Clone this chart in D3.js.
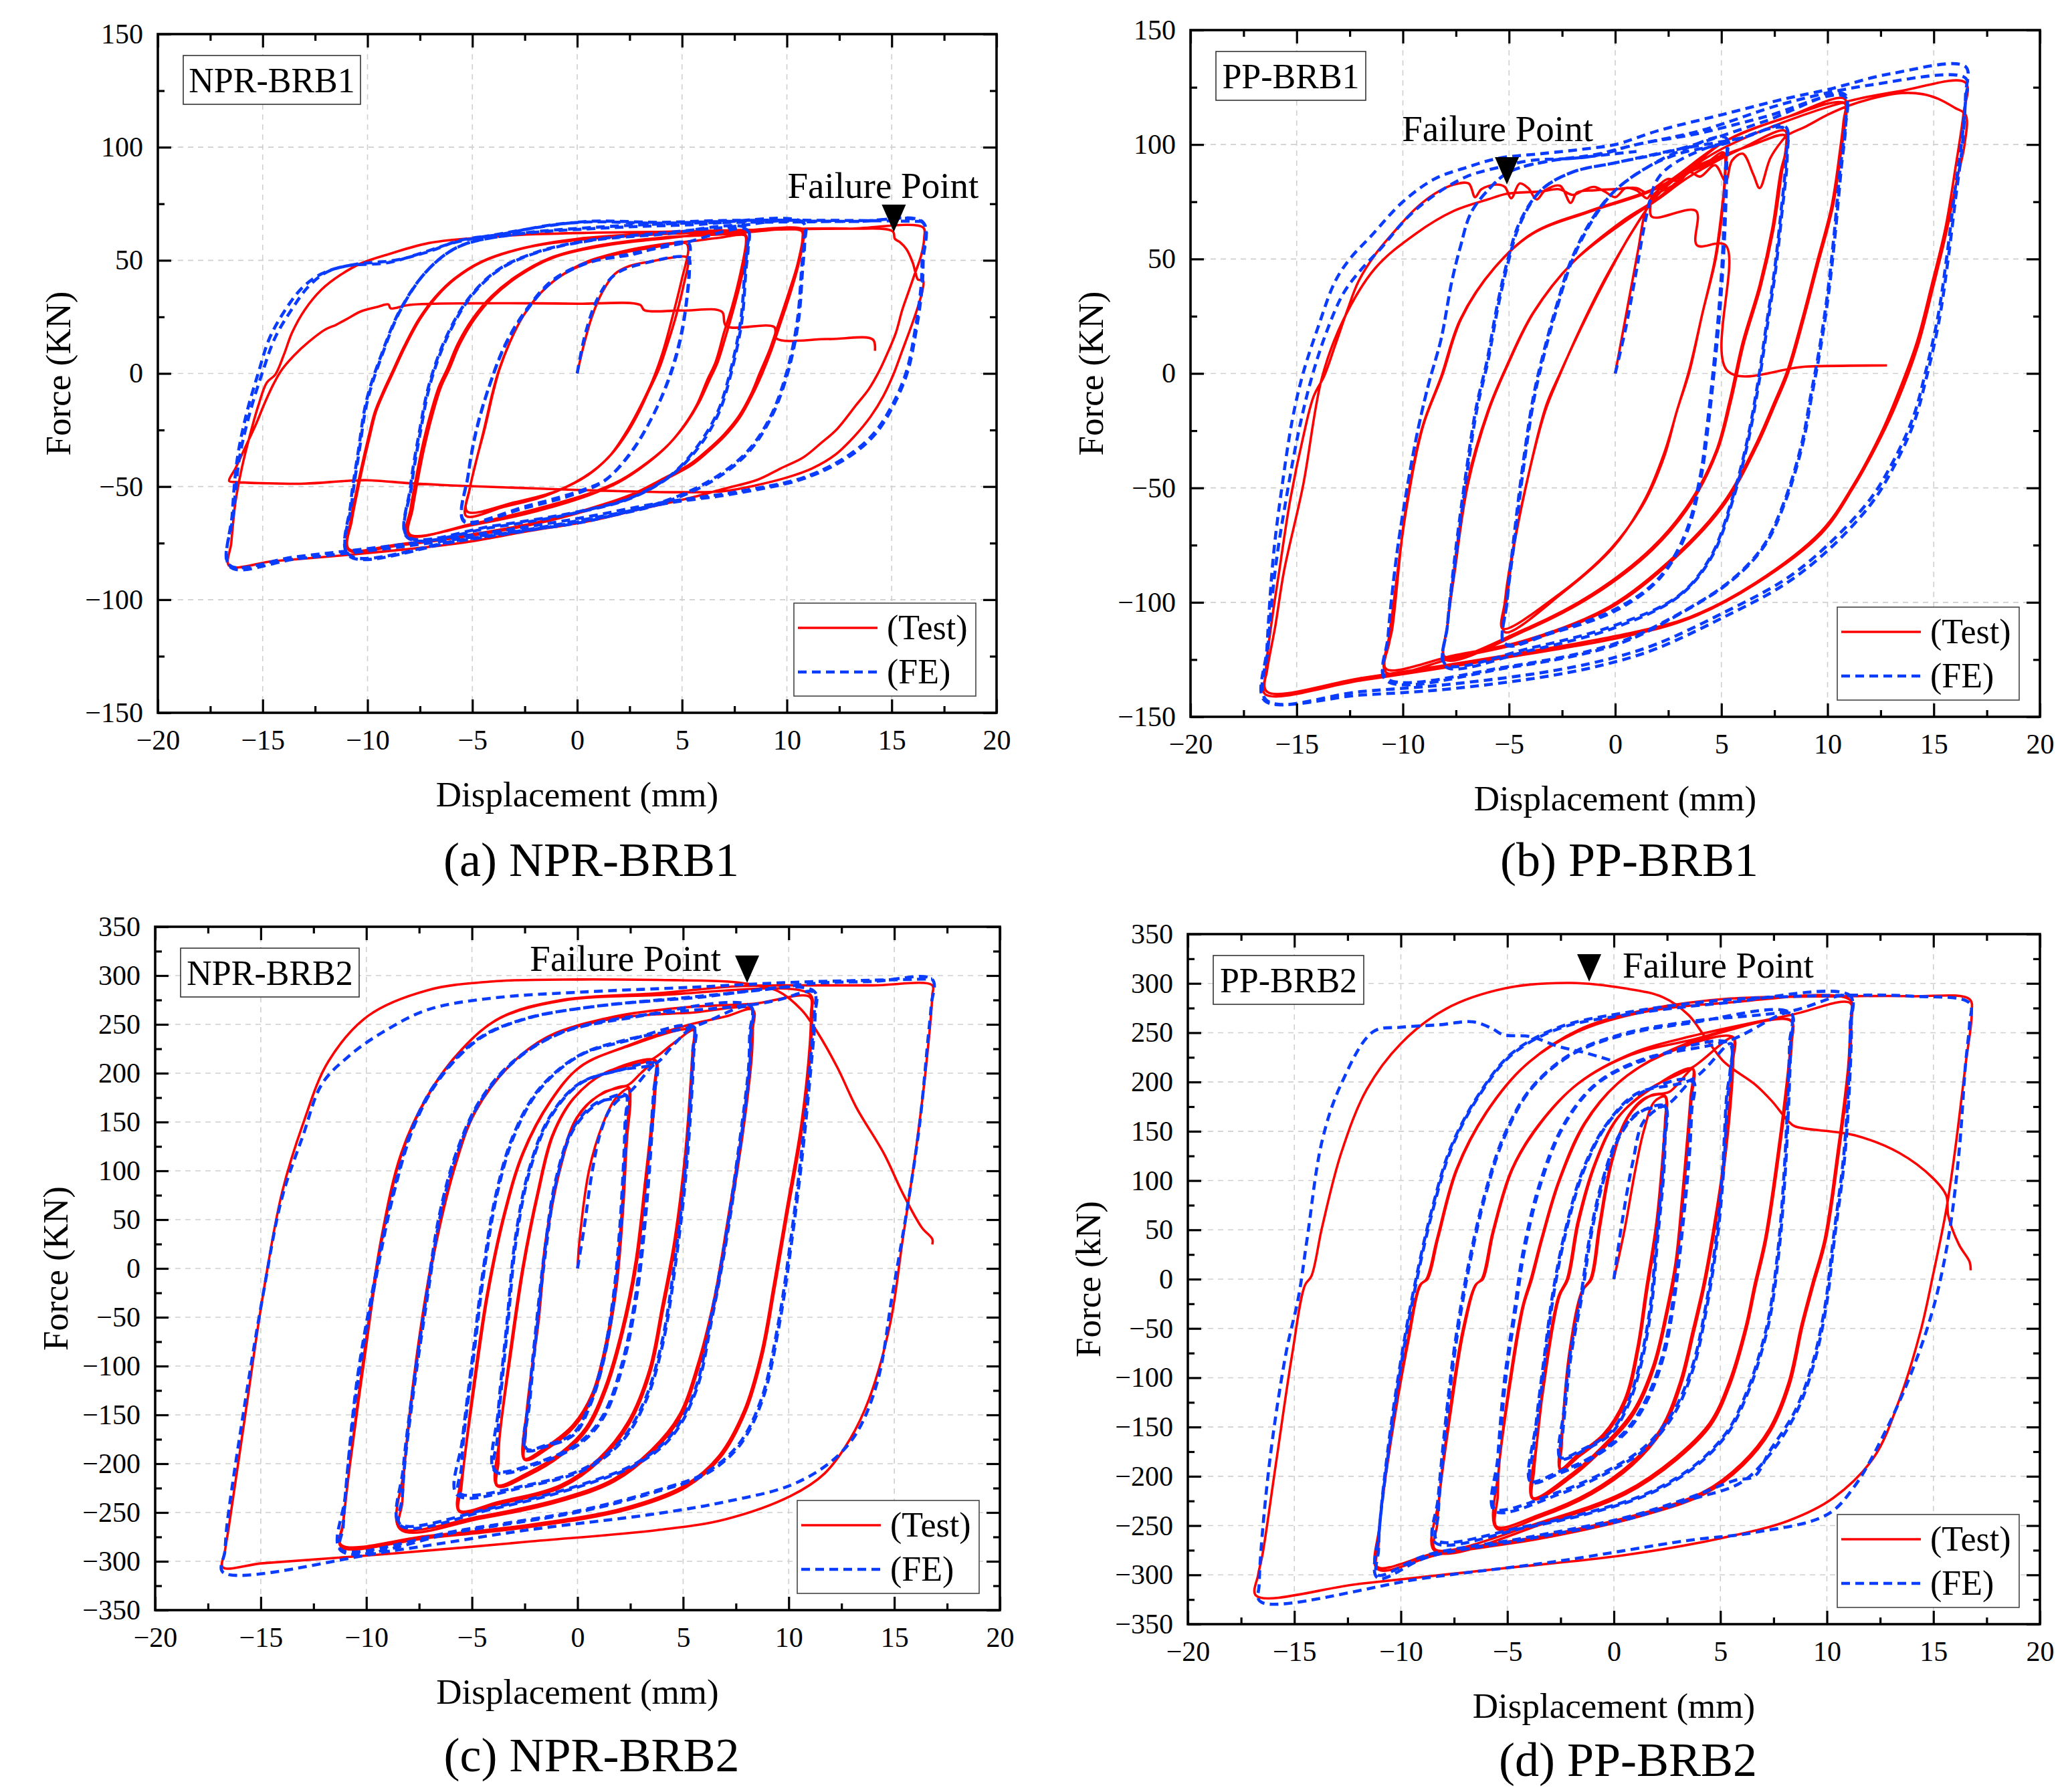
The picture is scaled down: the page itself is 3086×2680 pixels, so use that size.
<!DOCTYPE html>
<html><head><meta charset="utf-8">
<script src="https://cdn.jsdelivr.net/npm/d3@7"></script>
<style>
body{margin:0;background:#fff}
svg{display:block}
text{font-family:"Liberation Serif","Times New Roman",serif;fill:#000}
</style>
</head><body>
<svg id="chart" width="3086" height="2680"></svg>
<script>
const xTicks = [-20,-15,-10,-5,0,5,10,15,20];
const xMinor = [-17.5,-12.5,-7.5,-2.5,2.5,7.5,12.5,17.5];
const yTicksA = [-150,-100,-50,0,50,100,150];
const yMinorA = [-125,-75,-25,25,75,125];
const yTicksB = [-350,-300,-250,-200,-150,-100,-50,0,50,100,150,200,250,300,350];
const yMinorB = [-325,-275,-225,-175,-125,-75,-25,25,75,125,175,225,275,325];
const seriesNames = ["(Test)","(FE)"];

// ---------- (a) NPR-BRB1 ----------
const npr1Test = [
[0,0],[0.3,12],[0.7,25],[1.2,36],[1.8,44],[2.5,47.5],[3.5,49.5],[5.2,51.5],
[5.3,50],[5.1,40],[4.7,25],[4.2,10],[3.9,2],[3.4,-8],[3.0,-16],[2.4,-26],[1.6,-36],[0.5,-45],[-1,-52],[-3,-57],[-5.25,-61],
[-5.1,-50],[-4.8,-38],[-4.4,-24],[-4.0,-8],[-3.7,2],[-3.2,14],[-2.6,25],[-1.8,35],[-0.8,43],[0.5,49],[2,53],[3.5,55.5],[5.2,57.5],
[5.3,55],[5.0,42],[4.6,27],[4.1,10],[3.6,-3],[3.1,-13],[2.4,-25],[1.5,-37],[0.3,-46],[-1.5,-54],[-3.5,-59],[-5.3,-63],
[-5.15,-52],[-4.85,-40],[-4.45,-25],[-4.05,-9],[-3.75,1],[-3.25,13],[-2.6,25],[-1.8,35],[-0.8,43],[0.5,49.5],[2.2,54],[4,57],[5.5,58.5],[6.8,60],[8,61],
[8.05,58],[7.8,45],[7.4,30],[7.0,18],[6.6,5],[6.2,-3],[5.7,-14],[5.1,-23],[4.3,-32],[3.3,-40],[2,-48],[0.5,-54],[-2,-61],[-5,-67],[-8,-71],
[-7.85,-60],[-7.6,-47],[-7.3,-33],[-6.9,-18],[-6.5,-6],[-6.1,2],[-5.6,13],[-4.9,24],[-4.0,34],[-2.8,43],[-1.2,51],[1,56],[4,59.5],[8,61.5],
[8.1,58],[7.9,45],[7.5,30],[7.1,17],[6.7,5],[6.3,-3],[5.8,-13],[5.2,-22],[4.4,-31],[3.4,-39],[2.1,-47],[0.6,-53],[-2,-60],[-5,-66.5],[-8.1,-71.5],
[-7.95,-60],[-7.7,-47],[-7.4,-33],[-7.0,-18],[-6.6,-6],[-6.2,2],[-5.7,13],[-5,24],[-4.1,34],[-2.9,43],[-1.3,51],[1,56.5],[4,60],[7,61.5],[10.7,63],
[10.75,60],[10.5,48],[10.1,36],[9.6,22],[9.2,11],[8.7,0],[8.3,-9],[7.7,-19],[7.0,-27],[6.2,-34],[5.4,-40],[4,-47],[2.6,-53.5],[0.5,-60],[-2,-66],[-5.6,-72],[-8.5,-75.5],[-10.9,-77.5],
[-10.75,-65],[-10.5,-53],[-10.25,-42],[-9.9,-28],[-9.6,-17],[-9.2,-8],[-8.8,0],[-8.2,12],[-7.5,24],[-6.7,34],[-5.8,42],[-4.5,49.5],[-2.5,55.5],[0,59],[3.9,61.5],[7,62.5],[10.8,63.5],
[10.8,60],[10.55,48],[10.15,35],[9.65,21],[9.25,10],[8.8,-0.5],[8.35,-9.5],[7.75,-19.5],[7.05,-27.5],[6.25,-34.5],[5.45,-40.5],[4.05,-47.5],[2.65,-54],[0.5,-60.5],[-2,-66.5],[-5.6,-72.5],[-8.5,-76],[-10.9,-78],
[-10.8,-65],[-10.55,-53],[-10.3,-42],[-9.95,-28],[-9.65,-17],[-9.25,-8],[-8.85,0],[-8.25,12],[-7.55,24],[-6.75,34],[-5.85,42],[-4.55,49.5],[-2.55,55.5],[0,59.5],[3.9,62],[7,63],[10.5,63.8],[13,64],[16.5,64.5],
[16.55,60],[16.4,52],[16.1,44],[15.8,36],[15.5,28],[15.2,18],[14.8,9],[14.4,1],[13.9,-7],[13.3,-14],[12.4,-24.5],[11.6,-31],[10.8,-37],[9.7,-42],[8.6,-47],[7,-51],[5.4,-55],[3,-60],[0.7,-65],[-2.5,-70],[-5.6,-75],[-9,-78.5],[-11.9,-81],[-14.5,-83],[-16.6,-85],
[-16.5,-75],[-16.3,-57],[-16,-42],[-15.6,-27],[-15.2,-14],[-14.8,-4],[-14.4,-0.5],[-14,8],[-13.6,18],[-13,28],[-12.2,37],[-11.3,43.5],[-10.3,48.7],[-8.9,53],[-7.1,57.6],[-5,59.8],[-2.4,61.4],[0.8,62.2],[3.9,62.6],[7,63.2],[10.2,63.9],[13,64],[15.05,62.8],
[15.15,59.5],[15.4,58],[15.7,55],[16,49],[16.15,44],[16.25,41.5],[16.5,41],
[16.45,36],[16.2,28],[15.9,20],[15.5,10],[15.1,0],[14.6,-10],[14,-19],[13.2,-28],[12.3,-36],[11.2,-42],[10,-46],[8.5,-49.5],[7,-52],
[5,-52.5],[2,-52],[0,-51.5],[-3,-50.5],[-6,-49.5],[-8,-48.5],[-10,-47.2],[-11,-47.5],[-13,-48.7],[-15,-48.5],[-16.3,-48],[-16.6,-47.5],
[-16.3,-42],[-15.8,-32],[-15.3,-22],[-14.9,-13],[-14.5,-5],[-14.1,1.5],[-13.5,8],[-12.8,14],[-12,19.5],[-11.5,21.5],[-11,24],[-10.3,27.5],[-9.5,29.5],[-9,30.5],[-8.9,28.8],[-8,30.3],[-5,31],[-2,31],[0,30.8],[3,30.3],[3.2,28],[5,27.8],[6.9,27.3],[7.1,21],[9.4,20.5],[9.5,15.5],[12,15.2],[14.1,15],[14.2,10]
];
const npr1FE = [
[0,0],[0.4,18],[1,33.6],[1.8,43.7],[3.2,48.7],[5.3,51],
[5.35,45],[5.3,38.6],[5,18.4],[4.5,0.8],[3.7,-17],[2.6,-34.6],[1.35,-47],[0.1,-52],[-2.4,-58.6],[-5.4,-65],
[-5.2,-44.7],[-4.8,-24.5],[-4.15,-4.3],[-3.4,13.4],[-2.4,28.5],[-1.2,41],[0.4,48.7],[2.6,52.5],[5.3,57.6],
[5.35,50],[5.25,35],[4.95,17],[4.45,0],[3.65,-18],[2.55,-35],[1.3,-47.5],[0,-53],[-2.5,-59.5],[-5.4,-65.5],
[-5.2,-45],[-4.8,-25],[-4.15,-4.5],[-3.4,13],[-2.4,28],[-1.2,40.5],[0.4,48.5],[2.6,53],[5,57.5],[8.1,63.5],
[8.1,55],[8,46],[7.8,23.5],[7.3,0.8],[6.7,-17],[5.75,-32],[4.5,-44.7],[2.6,-54.8],[0.1,-61],[-4,-67.4],[-8.1,-72],
[-7.9,-49.7],[-7.5,-27],[-7,-4.3],[-6.2,16],[-5.1,33.6],[-3.7,46],[-1.8,53.8],[0.7,58.8],[3.9,61.4],[8.1,64],
[8.15,55],[8.05,46],[7.85,23],[7.35,0.5],[6.75,-17.5],[5.8,-32.5],[4.5,-45],[2.6,-55],[0,-61.5],[-4,-68],[-8.1,-72.5],
[-7.95,-50],[-7.55,-27],[-7.05,-4.5],[-6.25,16],[-5.15,33.5],[-3.75,46],[-1.8,54],[0.7,59],[3.9,62],[7,64.5],[10.8,66.4],
[10.8,58],[10.7,46],[10.5,23.5],[10,0.8],[9.2,-19.4],[8.1,-34.6],[6.4,-47],[3.9,-57.3],[0.1,-65],[-5.6,-73.7],[-10.9,-80],
[-10.75,-57.3],[-10.4,-34.6],[-10,-11.9],[-9.3,8.3],[-8.4,28.5],[-7.1,46],[-5.6,56.3],[-3,61.4],[0.7,64],[5.4,65.7],[10.8,66.6],
[10.85,58],[10.75,46],[10.55,23],[10.05,0.5],[9.25,-19.5],[8.15,-35],[6.45,-47.5],[3.9,-57.8],[0.1,-65.5],[-5.6,-74],[-10.9,-80.5],
[-10.8,-57.5],[-10.45,-35],[-10.05,-12],[-9.35,8],[-8.45,28],[-7.15,45.5],[-5.65,56],[-3,61.5],[0.7,64.5],[5.4,66.5],[10.8,67],[13.3,67.2],[16.5,66.5],
[16.45,50],[16.4,38.6],[16.1,18.4],[15.7,0.8],[15,-14.4],[14.1,-27],[12.8,-37],[10.8,-46],[7.6,-52.3],[3.9,-57.3],[0.1,-64],[-4,-70],[-8.7,-76],[-13.4,-81],[-16.6,-84.6],
[-16.4,-62.4],[-16.1,-37],[-15.6,-17],[-15,0.8],[-14.4,16],[-13.6,28.5],[-12.8,38.6],[-11.9,45],[-10.6,48.2],[-8.7,50],[-7.1,53.8],[-5.6,58.8],[-3.7,61.4],[-1.2,65.7],[0.7,67],[3.9,66.4],[7,67.2],[13.3,67.2],[16.5,66.8],
[16.5,50],[16.45,38],[16.15,18],[15.75,0.5],[15.05,-14.8],[14.15,-27.5],[12.85,-37.5],[10.8,-46.5],[7.6,-53],[3.9,-58],[0.1,-66],[-4,-71],[-8.7,-77],[-13.4,-82],[-16.55,-85.5],
[-16.45,-62],[-16.2,-37],[-15.75,-17],[-15.2,0.5],[-14.7,15],[-14,27],[-13.1,38],[-12.2,44],[-11,47.5],[-9,49],[-7.5,53],[-5.8,58],[-3.8,61.5],[-1.2,65.5],[0.7,67.3],[4,66.8],[7,67.6],[13.3,67.6],[16.5,67.2]
];

// ---------- (b) PP-BRB1 ----------
const pp1Test = [
[0,0],[0.3,15],[0.7,35],[1.1,55],[1.4,70],[1.8,78],[2.5,83],[3.5,88],[4.5,92],[5.2,96],
[5.2,90],[5.1,76],[4.75,51],[4.1,26],[3.5,1],[2.9,-16.5],[2.3,-36.5],[1.36,-56.5],[-0.2,-76.5],[-2.65,-96.5],[-5.3,-111.5],
[-5.2,-100],[-5,-86.5],[-4.2,-49],[-3.3,-16.5],[-2.65,-1.5],[-1.7,18.5],[-0.5,41],[0.74,61],[1.5,72],[2,78.5],[2.7,82],[3.5,88],[4.3,92],[5.1,96.5],
[5.15,85],[5.0,70],[4.7,50],[4.1,26],[3.5,2],[2.95,-15],[2.3,-35],[1.4,-55],[-0.1,-76],[-2.5,-96],[-5.2,-113],
[-5.05,-95],[-4.85,-80],[-4.1,-45],[-3.25,-14],[-2.6,0],[-1.6,20],[-0.4,42],[0.8,62],[2.1,79],[3.5,89],[5,95],[6.5,100],[8,104],
[8.05,98],[7.8,88.5],[7.4,63.5],[6.8,38.5],[6,13.5],[5.4,-11.5],[4.75,-34],[3.5,-56.5],[1.7,-76.5],[-1.1,-96.5],[-4.2,-111.5],[-8,-124],
[-7.9,-110],[-7.6,-86.5],[-7,-49],[-6,-16.5],[-5.1,3.5],[-3.9,26],[-2,48.5],[0.4,66],[2,76],[3.5,86],[6,98.5],[8,106],
[8.05,100],[7.85,88],[7.45,63],[6.85,38],[6.05,13],[5.45,-12],[4.8,-34],[3.55,-57],[1.75,-77],[-1.05,-97],[-4.15,-112],[-8,-125],
[-7.9,-110],[-7.55,-86],[-6.95,-49],[-5.95,-16],[-5.05,4],[-3.85,26.5],[-1.95,49],[0.4,67],[2,76.5],[5.1,101],[8.1,112],[10.8,120],
[10.75,110],[10.6,98.5],[10.2,73.5],[9.5,48.5],[8.8,23.5],[8.1,1],[7.5,-12.5],[6.6,-31.5],[5.1,-56.5],[2.9,-79],[-0.2,-101.5],[-4.2,-116.5],[-7.5,-123],[-10.8,-129],
[-10.65,-118],[-10.5,-111.5],[-9.9,-61.5],[-9.1,-24],[-8.2,-1.5],[-7.3,23.5],[-5.7,46],[-3.9,61],[-1.1,71],[2,81],[5.1,101],[8.1,112],[10.8,118],
[10.8,108],[10.65,98],[10.25,73],[9.55,48],[8.85,23],[8.15,0.5],[7.55,-13],[6.65,-32],[5.15,-57],[2.95,-79.5],[-0.15,-102],[-4.15,-117],[-7.5,-124],[-10.8,-130.5],
[-10.65,-115],[-10.5,-105],[-9.85,-60],[-9.05,-23],[-8.15,-1],[-7.25,24],[-5.65,46.5],[-3.85,61.5],[-1.05,71.5],[2.05,81.5],[5,98],[8,110],[11,119],[13.5,123.5],[16.5,127],
[16.4,113.5],[16,88.5],[15.55,63.5],[14.9,38.5],[14.2,13.5],[13.2,-11.5],[12.5,-26.5],[11.2,-49],[9.7,-69],[6.6,-91.5],[3.5,-106.5],[0.4,-114],[-5.7,-124],[-11.9,-133],[-16.4,-139],
[-16.45,-130],[-16.2,-110],[-15.8,-85],[-15.3,-55],[-14.7,-28],[-14.2,-10],[-13.7,-1],[-13.2,12],[-12.6,28],[-12.1,40],[-11.3,52],[-10.4,62],[-9.4,72],[-8.5,78.5],[-7.6,82.5],[-6.9,83],[-6.6,77],[-6.3,80.5],[-5.6,82.5],[-5.2,81.5],[-4.9,76.5],[-4.5,83],[-4.1,81],[-3.7,76],[-3.3,80],[-2.6,82],[-2.1,74.5],[-1.8,79],[-1,80],[0,80.5],[1,81],[1.5,79],[2,82],[2.5,85],[3,84],[3.5,88],[4,86],[4.7,91],[5.2,84],[5.5,93],[6,96],[6.5,87],[6.8,81],[7.3,94],[7.8,101],[8.1,104],[9,108],[10,113],[11,117],[12.5,121],[13.5,122.5],[14.5,122],[15.2,120],[16,116],[16.5,113],
[16.45,100],[16.1,85],[15.6,62],[14.95,37],[14.25,12],[13.25,-13],[12.5,-28],[11.2,-50],[9.7,-70],[6.6,-92],[3.5,-107],[0.4,-115],[-5.7,-125],[-11.9,-134],[-16.5,-140],
[-16.4,-130],[-16,-110],[-15.6,-86.5],[-14.7,-49],[-13.8,-1.5],[-12.8,23.5],[-11.3,46],[-9.4,61],[-7.6,71],[-6,76],[-5.1,78.5],[-3.5,79.5],[-2.65,80.5],[-2,78],[-1.5,80],[-1,81.5],[-0.5,79.5],[0,77],[0.5,81],[1,80],[1.5,76.5],[1.7,78.5],[1.72,68.5],[3.8,71],[3.85,56],[5.2,56],[5.3,1],[9,3],[12.8,3.5]
];
const pp1FE = [
[0,0],[0.5,20],[1,45],[1.5,70],[2,85],[3,93],[5.2,100],
[5.25,95],[5.2,90],[5.1,60],[4.9,30],[4.6,0],[4.3,-25],[4,-45],[3.3,-70],[2,-90],[0,-103],[-3,-113],[-5.2,-118],
[-5.1,-100],[-4.7,-70],[-4.3,-40],[-3.8,-10],[-3.3,10],[-2.7,30],[-2,50],[-1,68],[0,80],[1.5,90],[3,97],[5.2,103],
[5.25,92],[5.15,60],[4.95,30],[4.65,0],[4.35,-25],[4.05,-45],[3.35,-70],[2.05,-90],[0.05,-103.5],[-3,-113.5],[-5.2,-118.5],
[-5.1,-100],[-4.75,-70],[-4.35,-40],[-3.85,-10],[-3.35,10],[-2.75,30],[-2.05,50],[-1.05,68],[0,80],[1.5,90],[3,96],[5,100],[8,107],
[8.05,95],[7.8,70],[7.5,45],[7.1,20],[6.7,-5],[6.2,-30],[5.5,-55],[4.5,-80],[3,-97],[0,-110],[-4,-120],[-8,-127],
[-7.9,-110],[-7.5,-80],[-7,-45],[-6.5,-15],[-6,5],[-5.5,30],[-5,50],[-4.5,65],[-3.5,80],[-2,88],[0,92],[3,98],[6,103],[8,108],
[8.1,95],[7.85,70],[7.55,45],[7.15,20],[6.75,-5],[6.25,-30],[5.55,-55],[4.55,-80],[3.05,-97],[0,-111],[-4,-121],[-8,-128],
[-7.9,-110],[-7.55,-80],[-7.05,-45],[-6.55,-15],[-6.05,5],[-5.55,30],[-5.05,50],[-4.5,66],[-3.5,80],[-2,88],[0,92],[3,98],[7,110],[10.8,122],
[10.85,110],[10.6,90],[10.3,60],[10,35],[9.6,10],[9.2,-10],[8.8,-30],[8,-55],[7,-75],[5.5,-90],[3,-105],[0,-118],[-5,-128],[-10.8,-133],
[-10.7,-115],[-10.3,-80],[-9.8,-50],[-9.3,-25],[-8.8,-5],[-8.2,15],[-7.7,40],[-7.3,55],[-6.8,70],[-6,80],[-5,88],[-3,93],[-1,95],[1,100],[4,105],[7,112],[10.8,121],
[10.85,108],[10.65,90],[10.35,60],[10.05,35],[9.65,10],[9.25,-10],[8.85,-30],[8.05,-55],[7.05,-75],[5.55,-90],[3.05,-105],[0.05,-118.5],[-5,-128.5],[-10.8,-134],
[-10.7,-115],[-10.3,-80],[-9.8,-50],[-9.3,-25],[-8.8,-5],[-8.2,15],[-7.7,40],[-7.3,55],[-6.8,70],[-6,80],[-5,88],[-3,93],[-1,95.5],[1,100],[4,106],[8,118],[12,126],[16.5,129],
[16.5,120],[16.3,100],[16,80],[15.6,50],[15.2,25],[14.6,0],[14,-20],[13,-40],[12,-55],[10,-75],[8,-90],[5,-105],[2,-118],[0,-124],[-3,-130],[-8,-136],[-12,-139],[-16.5,-143],
[-16.4,-120],[-16.1,-80],[-15.7,-50],[-15.2,-20],[-14.7,0],[-14,20],[-13.2,40],[-12.5,50],[-11.5,60],[-10,75],[-8.5,85],[-7,90],[-5.5,94],[-3.5,96],[-1.5,98],[0,100],[2,106],[5,113],[8,120],[10,124],[13,131],[16.5,134],
[16.5,122],[16.35,100],[16.05,78],[15.65,48],[15.25,23],[14.65,-2],[14.05,-22],[13.05,-42],[12.05,-57],[10.05,-77],[8,-92],[5,-107],[2,-120],[0,-126],[-3,-132],[-8,-138],[-12,-140.5],[-16.45,-142.5],
[-16.35,-120],[-16,-85],[-15.5,-55],[-14.9,-25],[-14.3,-2],[-13.6,18],[-12.8,35],[-12,45],[-11,55],[-9.8,68],[-8.5,78],[-7,86],[-5.5,90],[-4,93],[-2,94],[0,96],[1,97]
];

// ---------- (c) NPR-BRB2 ----------
const npr2Test = [
[0,0],[0.1,30],[0.55,101],[1.2,148],[1.8,174],[2.4,184],
[2.45,170],[2.3,136],[2.1,60],[1.8,-16],[1.3,-81],[0.7,-128],[-0.2,-160],[-1.5,-183],[-2.5,-195],
[-2.45,-170],[-2.4,-145],[-1.9,-57],[-1.5,30],[-0.8,107],[-0.05,154],[1,177],[2.4,186],
[2.5,172],[2.35,135],[2.15,58],[1.85,-18],[1.35,-83],[0.75,-130],[-0.15,-162],[-1.45,-185],[-2.5,-196],
[-2.4,-145],[-1.85,-55],[-1.45,32],[-0.75,108],[0,155],[1.2,180],[2.4,188],[3,200],[3.7,212],
[3.65,190],[3.6,171],[3.2,89],[2.75,7],[2.1,-63],[1.3,-122],[0.4,-163],[-0.8,-189],[-2.4,-210],[-3.8,-222],
[-3.75,-200],[-3.7,-175],[-3.2,-87],[-2.6,1],[-1.9,77],[-1.2,136],[-0.2,174],[1.3,200],[3.7,213],
[3.7,192],[3.65,170],[3.25,88],[2.8,5],[2.15,-65],[1.35,-124],[0.45,-165],[-0.75,-191],[-2.35,-212],[-3.8,-223],
[-3.7,-175],[-3.15,-86],[-2.55,2],[-1.85,78],[-1.15,137],[-0.15,175],[1.35,201],[3.5,214],[4.5,230],[5.5,244],
[5.45,225],[5.4,206],[5.1,118],[4.6,30],[4,-40],[3.4,-104],[2.4,-157],[1,-195],[-0.8,-222],[-3.7,-239],[-5.6,-248],
[-5.5,-225],[-5.4,-204],[-4.9,-116],[-4.3,-28],[-3.5,54],[-2.6,118],[-1.3,171],[0.1,206],[2.3,227],[5.5,244],
[5.5,226],[5.45,205],[5.15,116],[4.65,28],[4.05,-42],[3.45,-106],[2.45,-159],[1.05,-197],[-0.75,-224],[-3.65,-241],[-5.6,-249],
[-5.4,-204],[-4.85,-115],[-4.25,-27],[-3.45,55],[-2.55,119],[-1.25,172],[0.15,207],[2.35,228],[5,248],[7,258],[8.3,265],
[8.25,245],[8.2,218],[7.75,136],[7.1,48],[6.5,-28],[5.7,-98],[4.8,-151],[3.5,-186],[1.7,-216],[-0.8,-236],[-4.6,-254],[-8.4,-266],
[-8.3,-240],[-8.2,-204],[-7.6,-87],[-6.8,19],[-5.8,107],[-4.9,159],[-3.3,206],[-1.5,236],[1.7,256],[5.4,262],[8.3,265],
[8.3,245],[8.25,217],[7.8,134],[7.15,46],[6.55,-30],[5.75,-100],[4.85,-153],[3.55,-188],[1.75,-218],[-0.75,-238],[-4.55,-256],[-8.4,-267],
[-8.2,-204],[-7.55,-86],[-6.75,20],[-5.75,108],[-4.85,160],[-3.25,207],[-1.45,237],[1.75,258],[5.4,268],[8.3,271],[11,278],
[11.05,260],[11,230],[10.6,148],[9.9,60],[9.3,-16],[8.7,-87],[7.9,-145],[6.7,-192],[5.1,-222],[2.3,-245],[-2.4,-263],[-7.1,-274],[-11.2,-283],
[-11.1,-260],[-10.8,-204],[-10.1,-87],[-9.3,30],[-8.35,118],[-7.1,177],[-5.5,224],[-3.7,256],[-0.8,274],[3.8,280],[11,281],
[11.1,262],[11.05,229],[10.65,146],[9.95,58],[9.35,-18],[8.75,-89],[7.95,-147],[6.75,-194],[5.15,-224],[2.35,-247],[-2.35,-265],[-7.05,-276],[-11.2,-285],
[-11.1,-262],[-10.8,-205],[-10.05,-86],[-9.25,31],[-8.3,119],[-7.05,178],[-5.45,225],[-3.65,257],[-0.75,275],[3.85,282],[7.6,289],[11,290],[14,290],[16.8,290],
[16.8,280],[16.5,206],[16,118],[15.4,30],[14.8,-57],[13.8,-134],[12.9,-175],[11.7,-210],[10.1,-233],[7,-257],[3.8,-268],[-2.4,-280],[-8.7,-292],[-14.9,-302],[-16.8,-306],
[-16.7,-290],[-16.5,-263],[-15.7,-145],[-14.9,-28],[-14,77],[-13,148],[-11.8,212],[-9.9,259],[-7.1,285],[-4,294],[0.1,296],[3.8,295.5],[7,294],[8.2,291],[9.5,284],[10.6,265],[11.3,244],[12.3,206],[13.2,165],[14.5,118],[15.4,77],[16.3,42],[16.8,30],[16.8,24.6]
];
const npr2FE = [
[0,0],[0.3,40],[0.7,100],[1.1,140],[1.6,165],[2.3,177],
[2.25,150],[2.2,118],[2,42],[1.7,-28],[1.2,-93],[0.55,-140],[-0.2,-169],[-1.5,-181],[-2.4,-185],
[-2.25,-134],[-1.9,-57],[-1.5,19],[-1,89],[-0.2,142],[0.9,168],[2.3,177.5],
[2.3,150],[2.25,118],[2.05,42],[1.75,-28],[1.25,-93],[0.6,-140],[-0.15,-170],[-1.45,-182],[-2.45,-186],
[-2.3,-134],[-1.95,-57],[-1.55,19],[-1.05,89],[-0.25,142],[0.85,169],[2.3,178],[3.7,209],
[3.6,180],[3.5,148],[3.2,60],[2.75,-28],[2.1,-98],[1.2,-151],[0.1,-178],[-1.8,-198],[-3.9,-207],
[-3.8,-175],[-3.7,-145],[-3.3,-57],[-2.9,30],[-2.25,101],[-1.3,154],[0.1,189],[2,203],[3.7,209.5],
[3.65,180],[3.55,147],[3.25,59],[2.8,-29],[2.15,-99],[1.25,-152],[0.15,-179],[-1.75,-199],[-3.9,-208],
[-3.75,-145],[-3.35,-57],[-2.95,30],[-2.3,101],[-1.35,154],[0.05,189],[1.95,203],[3.7,210],[4.5,228],[5.5,247],
[5.45,220],[5.4,195],[5.1,101],[4.6,7],[4,-75],[3.2,-134],[2.1,-175],[0.4,-204],[-2.4,-222],[-5.6,-230],
[-5.5,-205],[-5.4,-175],[-4.9,-87],[-4.4,1],[-3.8,77],[-3,136],[-1.8,183],[0.1,218],[2.3,233],[5.5,247.5],
[5.5,220],[5.45,194],[5.15,100],[4.65,6],[4.05,-76],[3.25,-135],[2.15,-176],[0.45,-205],[-2.35,-223],[-5.7,-232],
[-5.45,-175],[-4.95,-87],[-4.45,1],[-3.85,77],[-3.05,136],[-1.85,183],[0.05,218],[2.25,234],[5.5,248],[8.2,268],
[8.15,240],[8.1,206],[7.6,118],[7,30],[6.3,-52],[5.6,-122],[4.5,-169],[2.9,-198],[0.1,-222],[-4,-245],[-8.4,-262],
[-8.3,-235],[-8.2,-204],[-7.7,-116],[-7.1,-28],[-6.5,54],[-5.7,118],[-4.6,171],[-3,212],[-0.8,241],[2.3,256],[8.2,268.5],
[8.2,240],[8.15,205],[7.65,117],[7.05,29],[6.35,-53],[5.65,-123],[4.55,-170],[2.95,-199],[0.15,-223],[-3.95,-246],[-8.4,-263],
[-8.25,-204],[-7.75,-116],[-7.15,-28],[-6.55,54],[-5.75,118],[-4.65,171],[-3.05,212],[-0.85,241],[2.25,257],[8.2,270],[9.5,275],[11.2,283],
[11.2,260],[11,206],[10.6,118],[10.1,30],[9.5,-57],[8.7,-134],[7.6,-181],[6,-210],[3.8,-227],[0.1,-248],[-5.5,-268],[-11.2,-288],
[-11.1,-265],[-11,-233],[-10.4,-116],[-9.6,-16],[-8.7,77],[-7.7,148],[-6.5,195],[-4.6,236],[-2.4,256],[0.7,268],[5.4,277],[11.2,284],
[11.25,260],[11.05,205],[10.65,117],[10.15,29],[9.55,-58],[8.75,-135],[7.65,-182],[6.05,-211],[3.85,-228],[0.15,-249],[-5.45,-269],[-11.2,-289],
[-11,-233],[-10.45,-116],[-9.65,-16],[-8.75,77],[-7.75,148],[-6.55,195],[-4.65,236],[-2.45,256],[0.65,268],[5.4,278],[9,286],[11.2,292],[14,294],[16.8,296],
[16.75,270],[16.6,236],[16.2,148],[15.6,60],[14.9,-28],[14.2,-116],[13.2,-169],[12,-198],[10.1,-222],[7,-239],[3.8,-251],[-2.4,-268],[-8.7,-289],[-16.8,-311],
[-16.7,-290],[-16.6,-263],[-15.8,-145],[-14.9,-28],[-14,72],[-13,136],[-12.1,189],[-10.8,218],[-9.3,241],[-7.1,265],[-4,277],[0.1,283],[5.4,288],[10.1,293],[16.8,296.5]
];

// ---------- (d) PP-BRB2 ----------
const pp2Test = [
[0,0],[0.5,50],[1,110],[1.4,150],[1.9,180],[2.4,185],
[2.4,160],[2.3,128],[2,58],[1.5,-12],[1.1,-70],[0.5,-122.5],[-0.5,-157.5],[-1.7,-178],[-2.5,-192.5],
[-2.45,-170],[-2.4,-146],[-2.1,-76],[-1.5,-12],[-1.1,0],[-0.7,52.5],[-0.15,117],[0.6,163],[1.5,184],[2.4,186],
[2.45,160],[2.35,127],[2.05,57],[1.55,-13],[1.15,-71],[0.55,-124],[-0.45,-159],[-1.65,-180],[-2.5,-194],
[-2.4,-146],[-2.05,-75],[-1.45,-11],[-1.05,0],[-0.65,53],[-0.1,118],[0.65,164],[1.7,186],[2.6,190],[3.7,213],
[3.6,185],[3.5,157.5],[3.2,82],[2.9,17.5],[2.5,-29],[1.85,-87.5],[0.9,-134],[-0.5,-169],[-2,-198],[-3.8,-222],
[-3.75,-195],[-3.6,-163],[-3.2,-87.5],[-2.6,-17.5],[-2.2,0],[-1.7,58],[-0.9,117],[0.15,163],[1.7,192.5],[3.7,213.5],
[3.65,185],[3.55,157],[3.25,81],[2.95,16],[2.55,-30],[1.9,-89],[0.95,-136],[-0.45,-171],[-1.95,-200],[-3.8,-223],
[-3.6,-163],[-3.15,-87],[-2.55,-17],[-2.15,0],[-1.65,58],[-0.85,118],[0.2,164],[1.75,194],[3.7,215],[5.6,245],
[5.55,220],[5.5,198],[5.1,111],[4.6,41],[4.2,-6],[3.7,-52.5],[3.1,-105],[2.2,-152],[0.8,-187],[-1.1,-216],[-3.5,-239],[-5.5,-251],
[-5.45,-220],[-5.4,-192.5],[-4.9,-105],[-4.3,-29],[-3.9,0],[-3.4,41],[-2.6,99],[-1.4,157.5],[0.15,198],[2.3,227.5],[5.6,245.5],
[5.6,222],[5.55,197],[5.15,110],[4.65,40],[4.25,-7],[3.75,-54],[3.15,-107],[2.25,-154],[0.85,-189],[-1.05,-218],[-3.45,-241],[-5.5,-253],
[-5.4,-192],[-4.85,-104],[-4.25,-28],[-3.85,0],[-3.35,42],[-2.55,100],[-1.35,158],[0.2,199],[2.35,229],[5,250],[8.3,262],
[8.3,240],[8.2,216],[7.7,128],[7.1,41],[6.6,-6],[6.2,-47],[5.4,-105],[4.5,-146],[2.9,-181],[0.5,-216],[-3.2,-245],[-8.4,-274],
[-8.3,-250],[-8.2,-222],[-7.7,-134],[-7.1,-52.5],[-6.5,-6],[-6.2,0],[-5.7,47],[-4.8,111],[-3.5,157.5],[-1.7,198],[0.8,227.5],[3.5,242],[8.3,262.5],
[8.35,240],[8.25,215],[7.75,127],[7.15,40],[6.65,-7],[6.25,-48],[5.45,-107],[4.55,-148],[2.95,-183],[0.55,-218],[-3.15,-247],[-8.4,-276],
[-8.2,-222],[-7.65,-133],[-7.05,-52],[-6.45,-5],[-6.15,0],[-5.65,48],[-4.75,112],[-3.45,158],[-1.65,199],[0.85,229],[3.55,246],[8.3,268],[11.1,280],
[11.1,260],[11,216],[10.5,128],[9.9,41],[9.3,-6],[8.8,-47],[8.2,-105],[7.3,-152],[6,-187],[4.2,-216],[1.1,-239],[-3.2,-260],[-8.2,-277],[-11.1,-292],
[-11.05,-270],[-11,-251],[-10.5,-163],[-9.7,-64],[-9.1,-6],[-8.8,0],[-8.3,41],[-7.4,111],[-6,169],[-4.2,216],[-1.7,251],[1.4,271],[5.1,280],[11.1,283],
[11.15,262],[11.05,215],[10.55,127],[9.95,40],[9.35,-7],[8.85,-48],[8.25,-107],[7.35,-154],[6.05,-189],[4.25,-218],[1.15,-241],[-3.15,-262],[-8.15,-279],[-11.1,-294],
[-11,-250],[-10.45,-162],[-9.65,-63],[-9.05,-5],[-8.75,0],[-8.25,42],[-7.35,112],[-5.95,170],[-4.15,217],[-1.65,253],[1.45,273],[5.1,284],[11,287],[14,287],[16.7,284],
[16.8,270],[16.5,216],[16,128],[15.6,70],[15,6],[14.4,-52.5],[13.4,-122.5],[12.2,-181],[10.3,-222],[8.2,-245],[5.1,-262.5],[0.5,-280],[-5.7,-294.5],[-11.9,-309],[-16.8,-321],
[-16.7,-300],[-16.5,-280],[-15.9,-192.5],[-15.1,-76],[-14.5,-6],[-14.2,3],[-13.7,52.5],[-12.8,128],[-11.6,192.5],[-10,239],[-7.9,274],[-5.1,295],[-2,300.5],[0.5,295],[2.3,286],[3.5,268],[4.3,245],[5.1,222],[5.6,213],[6.6,198],[7.4,181],[8.2,160],[8.5,155],[11.3,146],[13.4,128],[15,102],[15.6,85],[15.7,64],[16.2,35],[16.7,17.5],[16.75,9]
];
const pp2FE = [
[0,0],[0.4,60],[0.9,120],[1.4,160],[2.4,175],
[2.35,140],[2.3,111],[2,41],[1.7,-29],[1.2,-87.5],[0.6,-128],[-0.15,-155],[-1.4,-172],[-2.5,-181],
[-2.4,-155],[-2.3,-134],[-2,-76],[-1.5,-17.5],[-1.1,41],[-0.5,99],[0.3,146],[1.2,169],[2.4,175.5],
[2.4,140],[2.35,110],[2.05,40],[1.75,-30],[1.25,-89],[0.65,-129],[-0.1,-156],[-1.35,-173],[-2.5,-182],
[-2.35,-134],[-2.05,-76],[-1.55,-17],[-1.15,41],[-0.55,99],[0.25,146],[1.2,170],[2.5,177],[3.7,201],
[3.6,170],[3.5,128],[3.2,58],[2.8,-17.5],[2.3,-76],[1.5,-122.5],[0.5,-155],[-1.1,-181],[-2.6,-195.5],[-3.9,-205],
[-3.8,-175],[-3.6,-146],[-3.2,-76],[-2.8,-12],[-2.2,52.5],[-1.4,111],[-0.3,157.5],[1.1,187],[3.7,201.5],
[3.65,170],[3.55,127],[3.25,57],[2.85,-18],[2.35,-77],[1.55,-124],[0.55,-156],[-1.05,-182],[-2.55,-197],[-3.9,-206],
[-3.65,-146],[-3.25,-76],[-2.85,-12],[-2.25,52],[-1.45,111],[-0.35,157],[1.05,188],[3.7,203],[5.5,239],
[5.45,210],[5.3,187],[5.1,111],[4.8,41],[4.3,-29],[3.7,-87.5],[2.8,-134],[1.5,-169],[-0.15,-192.5],[-2.6,-216],[-5.6,-233],
[-5.5,-205],[-5.4,-181],[-5.1,-105],[-4.6,-29],[-4.2,29],[-3.4,99],[-2.3,157.5],[-0.8,198],[1.4,222],[5.4,239.5],
[5.5,212],[5.35,186],[5.15,110],[4.85,40],[4.35,-30],[3.75,-89],[2.85,-136],[1.55,-171],[-0.1,-194],[-2.55,-218],[-5.6,-235],
[-5.45,-181],[-5.15,-105],[-4.65,-29],[-4.25,29],[-3.45,99],[-2.35,157],[-0.85,198],[1.35,223],[5.4,242],[8.3,269.5],
[8.25,240],[8.2,204],[8,111],[7.7,29],[7.25,-41],[6.6,-93],[6.3,-111],[5.4,-152],[3.9,-187],[1.7,-216],[-1.1,-236],[-4.2,-251],[-8.3,-265],
[-8.25,-240],[-8.2,-222],[-7.8,-134],[-7.4,-64],[-6.8,12],[-6,87.5],[-5.1,146],[-3.9,192.5],[-2,227.5],[0.5,248],[3.5,259.5],[8.3,270],
[8.3,240],[8.25,203],[8.05,110],[7.75,28],[7.3,-42],[6.65,-94],[6.35,-112],[5.45,-153],[3.95,-188],[1.75,-217],[-1.05,-237],[-4.15,-252],[-8.4,-267],
[-8.25,-222],[-7.85,-134],[-7.45,-64],[-6.85,12],[-6.05,87],[-5.15,146],[-3.95,192],[-2.05,228],[0.45,249],[3.45,261],[8.3,272],[11.1,287],
[11.1,260],[11.05,216],[10.8,128],[10.3,41],[9.9,-29],[9.3,-87.5],[8.5,-134],[7.3,-175],[6.6,-200],[5.7,-204],[3.5,-222],[0.5,-242],[-4.2,-262.5],[-8.8,-280],[-11.1,-300],
[-11.05,-275],[-11,-251],[-10.5,-163],[-9.9,-76],[-9.3,-6],[-8.5,70],[-7.6,134],[-6.3,187],[-4.8,227.5],[-2.6,254],[0.5,268],[5.1,280],[11.1,287.5],
[11.15,262],[11.1,215],[10.85,127],[10.35,40],[9.95,-30],[9.35,-89],[8.55,-136],[7.35,-177],[6,-206],[3.55,-224],[0.55,-244],[-4.15,-264],[-8.75,-282],[-11.1,-303],
[-11,-252],[-10.55,-163],[-9.95,-76],[-9.35,-6],[-8.55,70],[-7.65,134],[-6.35,187],[-4.85,228],[-2.65,255],[0.45,270],[5.1,283],[11.1,288],[14,287],[16.7,280],
[16.7,260],[16.5,216],[16.2,128],[15.7,41],[15,-29],[14,-93],[12.8,-152],[11.3,-210],[10,-239],[6.6,-257],[3.5,-265],[-2.6,-286],[-8.8,-303],[-16.6,-327],
[-16.65,-309],[-16.2,-192.5],[-15.4,-76],[-14.8,-17.5],[-14.4,41],[-13.7,140],[-12.8,198],[-11.3,251],[-10,255.5],[-8.2,258],[-6.6,261],[-5.7,254],[-5.2,248],[-3.9,246],[-2.6,236],[-1.4,230],[-0.15,222]
];

const panels = [
  {l:236,r:1490,t:51,b:1066, yDomain:[-150,150], yTicks:yTicksA, yMinor:yMinorA,
   test:npr1Test, fe:npr1FE, label:"NPR-BRB1", labelW:265, yTitle:"Force (KN)", caption:"(a) NPR-BRB1", capY:1310,
   fail:{x:15.1,y:62.5,dx:-16,dy:-51,anchor:"middle"}},
  {l:1780,r:3050,t:45,b:1072, yDomain:[-150,150], yTicks:yTicksA, yMinor:yMinorA,
   test:pp1Test, fe:pp1FE, label:"PP-BRB1", labelW:224, yTitle:"Force (KN)", caption:"(b) PP-BRB1", capY:1310,
   fail:{x:-5.1,y:82.5,dx:-14,dy:-65,anchor:"middle"}},
  {l:232,r:1495,t:1386,b:2408, yDomain:[-350,350], yTicks:yTicksB, yMinor:yMinorB,
   test:npr2Test, fe:npr2FE, label:"NPR-BRB2", labelW:267, yTitle:"Force (KN)", caption:"(c) NPR-BRB2", capY:2649,
   fail:{x:8.03,y:292.5,dx:-39,dy:-18,anchor:"end"}},
  {l:1776,r:3050,t:1397,b:2429, yDomain:[-350,350], yTicks:yTicksB, yMinor:yMinorB,
   test:pp2Test, fe:pp2FE, label:"PP-BRB2", labelW:225, yTitle:"Force (kN)", caption:"(d) PP-BRB2", capY:2656,
   fail:{x:-1.16,y:301.8,dx:50,dy:-6,anchor:"start"}}
];

const RED = "#ff0000", BLUE = "#0a3cff";
const svg = d3.select("#chart");
svg.append("rect").attr("width",3086).attr("height",2680).attr("fill","#fff");

panels.forEach((p,i)=>{
  const g = svg.append("g");
  const x = d3.scaleLinear().domain([-20,20]).range([p.l,p.r]);
  const y = d3.scaleLinear().domain(p.yDomain).range([p.b,p.t]);

  // grid
  const grid = g.append("g").attr("stroke","#cfcfcf").attr("stroke-width",1.6).attr("stroke-dasharray","8,7");
  grid.selectAll(".gx").data(xTicks.slice(1,-1)).join("line")
    .attr("x1",d=>x(d)).attr("x2",d=>x(d)).attr("y1",p.t).attr("y2",p.b);
  grid.selectAll(".gy").data(p.yTicks.slice(1,-1)).join("line")
    .attr("y1",d=>y(d)).attr("y2",d=>y(d)).attr("x1",p.l).attr("x2",p.r);

  // clip
  const cid = "clip"+i;
  svg.append("clipPath").attr("id",cid).append("rect")
    .attr("x",p.l).attr("y",p.t).attr("width",p.r-p.l).attr("height",p.b-p.t);

  const line = d3.line().x(d=>x(d[0])).y(d=>y(d[1])).curve(d3.curveCatmullRom.alpha(0.5));
  const dg = g.append("g").attr("clip-path",`url(#${cid})`);
  dg.append("path").datum(p.test).attr("d",line).attr("fill","none")
    .attr("stroke",RED).attr("stroke-width",3.6).attr("stroke-linejoin","round");
  dg.append("path").datum(p.fe).attr("d",line).attr("fill","none")
    .attr("stroke",BLUE).attr("stroke-width",4.6).attr("stroke-dasharray","13,8");

  // axes
  const styleAxis = sel => {
    sel.select(".domain").remove();
    sel.selectAll(".tick line").attr("stroke","#000").attr("stroke-width",3.2);
    sel.selectAll(".tick text").attr("font-size",42).attr("font-family",'"Liberation Serif","Times New Roman",serif').attr("fill","#000");
  };
  const fmt = d3.format("d");
  g.append("g").attr("transform",`translate(0,${p.b})`)
    .call(d3.axisBottom(x).tickValues(xTicks).tickSizeInner(-20).tickSizeOuter(0).tickPadding(25).tickFormat(fmt)).call(styleAxis);
  g.append("g").attr("transform",`translate(0,${p.b})`)
    .call(d3.axisBottom(x).tickValues(xMinor).tickSizeInner(-10).tickSizeOuter(0).tickFormat("")).call(styleAxis);
  g.append("g").attr("transform",`translate(0,${p.t})`)
    .call(d3.axisTop(x).tickValues(xTicks).tickSizeInner(-20).tickSizeOuter(0).tickFormat("")).call(styleAxis);
  g.append("g").attr("transform",`translate(0,${p.t})`)
    .call(d3.axisTop(x).tickValues(xMinor).tickSizeInner(-10).tickSizeOuter(0).tickFormat("")).call(styleAxis);
  g.append("g").attr("transform",`translate(${p.l},0)`)
    .call(d3.axisLeft(y).tickValues(p.yTicks).tickSizeInner(-20).tickSizeOuter(0).tickPadding(22).tickFormat(fmt)).call(styleAxis);
  g.append("g").attr("transform",`translate(${p.l},0)`)
    .call(d3.axisLeft(y).tickValues(p.yMinor).tickSizeInner(-10).tickSizeOuter(0).tickFormat("")).call(styleAxis);
  g.append("g").attr("transform",`translate(${p.r},0)`)
    .call(d3.axisRight(y).tickValues(p.yTicks).tickSizeInner(-20).tickSizeOuter(0).tickFormat("")).call(styleAxis);
  g.append("g").attr("transform",`translate(${p.r},0)`)
    .call(d3.axisRight(y).tickValues(p.yMinor).tickSizeInner(-10).tickSizeOuter(0).tickFormat("")).call(styleAxis);

  g.append("rect").attr("x",p.l).attr("y",p.t).attr("width",p.r-p.l).attr("height",p.b-p.t)
    .attr("fill","none").attr("stroke","#000").attr("stroke-width",3.6);

  // label box
  const bx = p.l+38, by = p.t+32, bh = 73;
  g.append("rect").attr("x",bx).attr("y",by).attr("width",p.labelW).attr("height",bh)
    .attr("fill","#fff").attr("stroke","#333").attr("stroke-width",1.6);
  g.append("text").attr("x",bx+p.labelW/2).attr("y",by+bh/2+18).attr("text-anchor","middle")
    .attr("font-size",52).text(p.label);

  // legend
  const lw = 272, lh = 139;
  const lx = p.r-31-lw, ly = p.b-25-lh;
  g.append("rect").attr("x",lx).attr("y",ly).attr("width",lw).attr("height",lh)
    .attr("fill","#fff").attr("stroke","#444").attr("stroke-width",1.6);
  const legY = [ly+37, ly+103];
  g.append("line").attr("x1",lx+6).attr("x2",lx+125).attr("y1",legY[0]).attr("y2",legY[0])
    .attr("stroke",RED).attr("stroke-width",3.6);
  g.append("line").attr("x1",lx+6).attr("x2",lx+125).attr("y1",legY[1]).attr("y2",legY[1])
    .attr("stroke",BLUE).attr("stroke-width",4.6).attr("stroke-dasharray","13,8");
  seriesNames.forEach((n,k)=>{
    g.append("text").attr("x",lx+139).attr("y",legY[k]+17).attr("font-size",52).text(n);
  });

  // failure point
  const fx = x(p.fail.x), fy = y(p.fail.y);
  g.append("path").attr("d",`M${fx},${fy} L${fx-18},${fy-41} L${fx+18},${fy-41} Z`).attr("fill","#000");
  g.append("text").attr("x",fx+p.fail.dx).attr("y",fy+p.fail.dy).attr("text-anchor",p.fail.anchor)
    .attr("font-size",55).text("Failure Point");

  // titles
  const cx = (p.l+p.r)/2, cy = (p.t+p.b)/2;
  g.append("text").attr("x",cx).attr("y",p.b+140).attr("text-anchor","middle").attr("font-size",53).text("Displacement (mm)");
  g.append("text").attr("transform",`translate(${p.l-131},${cy}) rotate(-90)`).attr("text-anchor","middle")
    .attr("font-size",53).text(p.yTitle);
  g.append("text").attr("x",cx+21).attr("y",p.capY).attr("text-anchor","middle").attr("font-size",72).text(p.caption);
});
</script>
</body></html>
